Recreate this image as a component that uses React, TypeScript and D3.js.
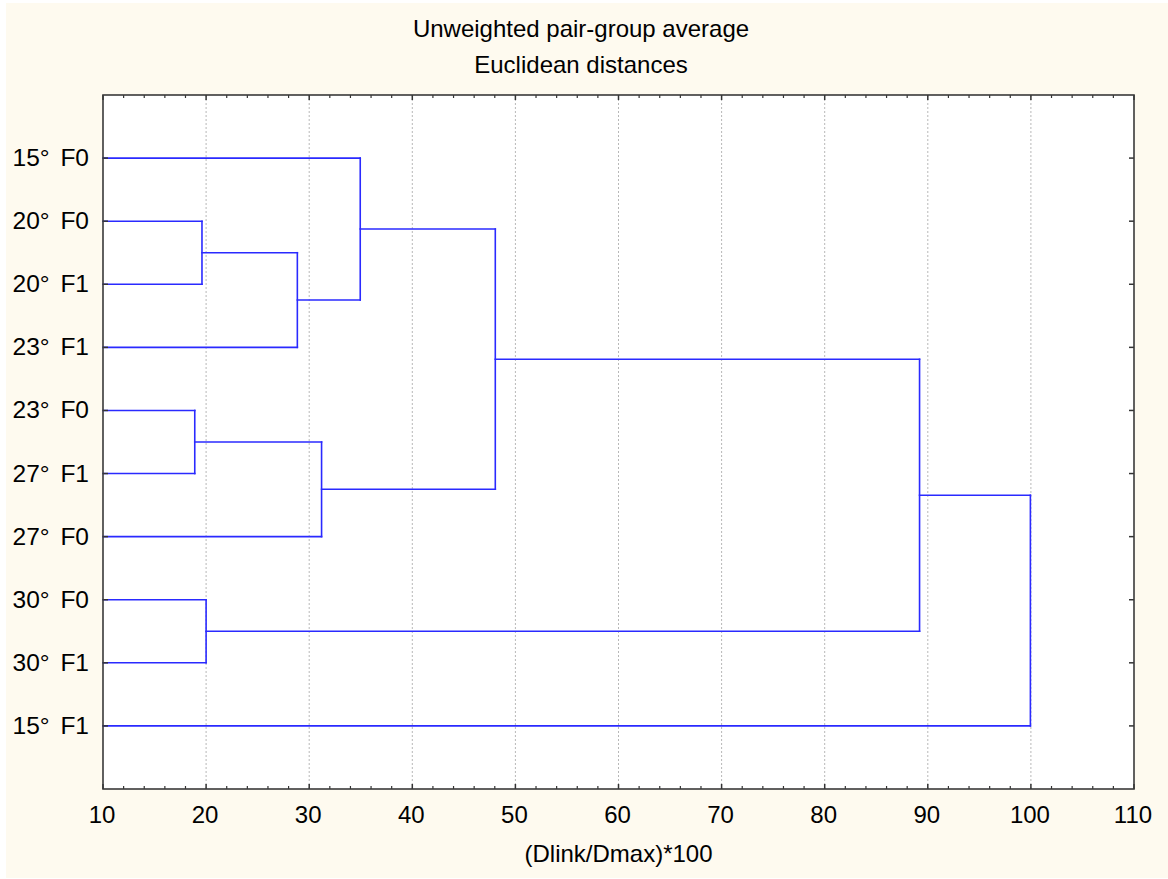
import React, {useEffect, useRef} from 'react';
import * as d3 from 'd3';

// leaves, top to bottom
const leaves = ['15° F0', '20° F0', '20° F1', '23° F1', '23° F0', '27° F1', '27° F0', '30° F0', '30° F1', '15° F1'];

// each merge joins two nodes (leaf index, or 10 + merge index) at a linkage distance
const mergeLeft = [1, 10, 0, 4, 13, 12, 7, 15, 17];
const mergeRight = [2, 3, 11, 5, 6, 14, 8, 16, 9];
const mergeDist = [19.6, 28.85, 34.95, 18.9, 31.2, 48.05, 20.0, 89.2, 99.95];

const xTicks = [10, 20, 30, 40, 50, 60, 70, 80, 90, 100, 110];
const titleLines = ['Unweighted pair-group average', 'Euclidean distances'];
const xTitle = '(Dlink/Dmax)*100';

export default function App() {
  const ref = useRef<SVGSVGElement>(null);

  useEffect(() => {
    const svg = d3.select(ref.current);
    svg.selectAll('*').remove();

    const W = 1168, H = 879;
    const margin = {top: 95, right: 34, bottom: 90, left: 103};
    const font = '"Liberation Sans", Arial, sans-serif';

    svg.append('rect').attr('x', 0).attr('y', 0).attr('width', W).attr('height', H).attr('fill', '#ffffff');
    svg.append('rect').attr('x', 6).attr('y', 3).attr('width', W - 6).attr('height', H - 4).attr('fill', '#fefaef');

    const x = d3.scaleLinear().domain([10, 110]).range([margin.left, W - margin.right]);
    const y = d3.scaleLinear().domain([0, leaves.length + 1]).range([margin.top, H - margin.bottom]);

    const x0 = x.range()[0], x1 = x.range()[1];
    const y0 = y.range()[0], y1 = y.range()[1];

    svg.append('rect').attr('x', x0).attr('y', y0).attr('width', x1 - x0).attr('height', y1 - y0)
      .attr('fill', '#ffffff');

    // grid
    svg.append('g').selectAll('line')
      .data(xTicks.slice(1, -1))
      .enter().append('line')
      .attr('x1', d => x(d)).attr('x2', d => x(d))
      .attr('y1', y0).attr('y2', y1)
      .attr('stroke', '#b8b8b8').attr('stroke-width', 1).attr('stroke-dasharray', '2,2');

    // dendrogram
    const nodeX: number[] = leaves.map(() => 10);
    const nodeY: number[] = leaves.map((d, i) => i + 1);
    const segs: [number, number, number, number][] = [];
    mergeDist.forEach((h, i) => {
      const a = mergeLeft[i], b = mergeRight[i];
      segs.push([nodeX[a], nodeY[a], h, nodeY[a]]);
      segs.push([nodeX[b], nodeY[b], h, nodeY[b]]);
      segs.push([h, nodeY[a], h, nodeY[b]]);
      nodeX.push(h);
      nodeY.push((nodeY[a] + nodeY[b]) / 2);
    });

    svg.append('g').selectAll('line')
      .data(segs)
      .enter().append('line')
      .attr('x1', d => x(d[0])).attr('y1', d => y(d[1]))
      .attr('x2', d => x(d[2])).attr('y2', d => y(d[3]))
      .attr('stroke', '#2a2aff').attr('stroke-width', 1.6).attr('stroke-linecap', 'square');

    // ticks
    const minor = d3.range(12, 110, 2).filter(d => d % 10 !== 0);
    const tk = svg.append('g').attr('stroke', '#333');
    [y0, y1].forEach((yy, k) => {
      const dir = k === 0 ? 1 : -1;
      tk.selectAll(null).data(xTicks).enter().append('line')
        .attr('x1', d => x(d)).attr('x2', d => x(d))
        .attr('y1', yy).attr('y2', yy + dir * 5).attr('stroke-width', 1.5);
      tk.selectAll(null).data(minor).enter().append('line')
        .attr('x1', d => x(d)).attr('x2', d => x(d))
        .attr('y1', yy).attr('y2', yy + dir * 3).attr('stroke-width', 1.2);
    });
    [x0, x1].forEach((xx, k) => {
      const dir = k === 0 ? 1 : -1;
      tk.selectAll(null).data(leaves).enter().append('line')
        .attr('x1', xx).attr('x2', xx + dir * 5)
        .attr('y1', (d, i) => y(i + 1)).attr('y2', (d, i) => y(i + 1)).attr('stroke-width', 1.5);
    });

    // frame
    svg.append('rect').attr('x', x0).attr('y', y0).attr('width', x1 - x0).attr('height', y1 - y0)
      .attr('fill', 'none').attr('stroke', '#3a3a3a').attr('stroke-width', 1.6);

    // labels
    svg.append('g').selectAll('text')
      .data(leaves)
      .enter().append('text')
      .attr('x', 89).attr('y', (d, i) => y(i + 1) + 8)
      .attr('text-anchor', 'end').attr('font-family', font).attr('font-size', 24.5)
      .attr('word-spacing', 4).attr('fill', '#000')
      .text(d => d);

    svg.append('g').selectAll('text')
      .data(xTicks)
      .enter().append('text')
      .attr('x', d => x(d) - 1).attr('y', 823)
      .attr('text-anchor', 'middle').attr('font-family', font).attr('font-size', 24).attr('fill', '#000')
      .text(d => d);

    svg.append('text')
      .attr('x', (x0 + x1) / 2).attr('y', 862)
      .attr('text-anchor', 'middle').attr('font-family', font).attr('font-size', 24).attr('fill', '#000')
      .text(xTitle);

    svg.append('g').selectAll('text')
      .data(titleLines)
      .enter().append('text')
      .attr('x', 581).attr('y', (d, i) => 37 + i * 35.5)
      .attr('text-anchor', 'middle').attr('font-family', font).attr('font-size', 24).attr('fill', '#000')
      .text(d => d);
  }, []);

  return (
    <svg ref={ref} width={1168} height={879}
         style={{position: 'absolute', left: 0, top: 0, display: 'block'}}/>
  );
}
